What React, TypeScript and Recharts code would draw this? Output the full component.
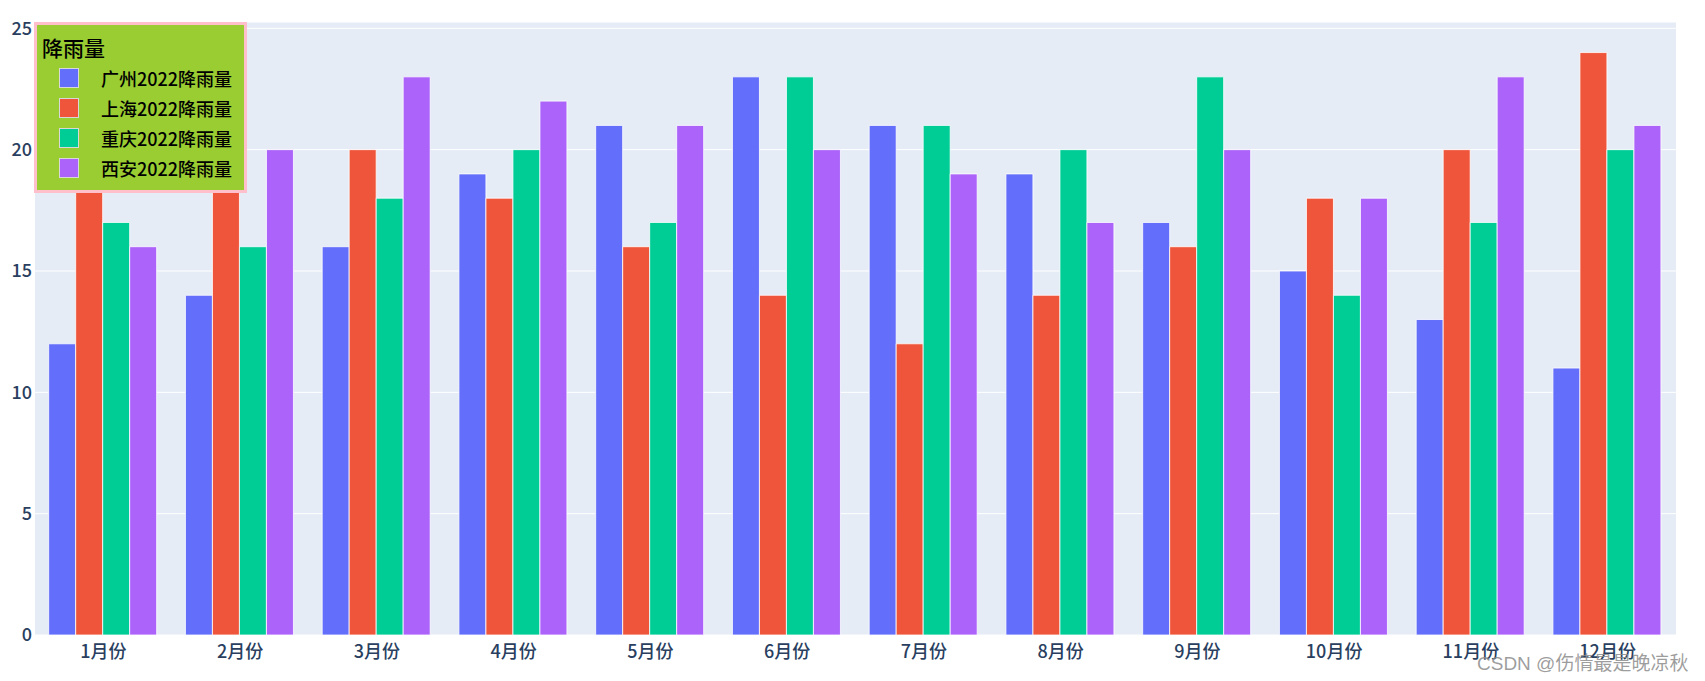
import { BarChart, Bar, XAxis, YAxis, CartesianGrid, Legend } from "recharts";

const MONTHS = [
  "1月份", "2月份", "3月份", "4月份", "5月份", "6月份",
  "7月份", "8月份", "9月份", "10月份", "11月份", "12月份",
];

const GUANGZHOU = [12, 14, 16, 19, 21, 23, 21, 19, 17, 15, 13, 11];
const SHANGHAI = [24, 22, 20, 18, 16, 14, 12, 14, 16, 18, 20, 24];
const CHONGQING = [17, 16, 18, 20, 17, 23, 21, 20, 23, 14, 17, 20];
const XIAN = [16, 20, 23, 22, 21, 20, 19, 17, 20, 18, 23, 21];

const Y_TICKS = [0, 5, 10, 15, 20, 25];

const SERIES = [
  { key: "gz", name: "广州2022降雨量", color: "#636EFA", values: GUANGZHOU },
  { key: "sh", name: "上海2022降雨量", color: "#EF553B", values: SHANGHAI },
  { key: "cq", name: "重庆2022降雨量", color: "#00CC96", values: CHONGQING },
  { key: "xa", name: "西安2022降雨量", color: "#AB63FA", values: XIAN },
];

const data = MONTHS.map((month, i) => {
  const row: Record<string, string | number> = { month };
  SERIES.forEach((s) => (row[s.key] = s.values[i]));
  return row;
});

const FONT = '"Noto Sans CJK SC", "Open Sans", sans-serif';

function RainLegend() {
  return (
    <div
      style={{
        boxSizing: "border-box",
        width: 213,
        height: 171,
        background: "#9ACD32",
        border: "3px solid #FFC0CB",
        fontFamily: FONT,
        fontWeight: 500,
        color: "#000",
        position: "relative",
      }}
    >
      <div style={{ position: "absolute", left: 5, top: 9, fontSize: 21, lineHeight: "26px" }}>
        降雨量
      </div>
      {SERIES.map((s, i) => (
        <div key={s.key}>
          <div
            style={{
              position: "absolute",
              left: 22,
              top: 43 + i * 30,
              width: 18,
              height: 18,
              background: s.color,
              border: "1px solid #d8d8d8",
            }}
          />
          <div
            style={{
              position: "absolute",
              left: 64,
              top: 40 + i * 30,
              fontSize: 18,
              lineHeight: "26px",
              whiteSpace: "nowrap",
            }}
          >
            {s.name}
          </div>
        </div>
      ))}
    </div>
  );
}

export default function App() {
  return (
    <div style={{ position: "absolute", left: 0, top: 0, width: 1705, height: 681, background: "#fff" }}>
      <BarChart
        width={1705}
        height={681}
        data={data}
        margin={{ top: 22, right: 29, bottom: 0, left: 0 }}
        barCategoryGap="10%"
        barGap={0}
      >
        <CartesianGrid vertical={false} stroke="#ffffff" strokeWidth={1} fill="#E5ECF6" />
        <XAxis
          dataKey="month"
          height={46}
          axisLine={false}
          tickLine={false}
          tickSize={0}
          tickMargin={10}
          tick={{ fill: "#2a3f5f", fontSize: 18, fontWeight: 500, fontFamily: FONT }}
        />
        <YAxis
          width={35}
          domain={[0, 25.26]}
          ticks={Y_TICKS}
          axisLine={false}
          tickLine={false}
          tickSize={0}
          tickMargin={3}
          tick={{ fill: "#2a3f5f", fontSize: 18, fontWeight: 500, fontFamily: FONT }}
        />
        <Legend
          layout="vertical"
          verticalAlign="middle"
          align="center"
          wrapperStyle={{ left: 34, top: 22, width: 213, height: 171 }}
          content={() => <RainLegend />}
        />
        {SERIES.map((s) => (
          <Bar
            key={s.key}
            dataKey={s.key}
            name={s.name}
            fill={s.color}
            stroke="#ffffff"
            strokeWidth={0.8}
            isAnimationActive={false}
          />
        ))}
      </BarChart>
      <div
        style={{
          position: "absolute",
          left: 1477,
          top: 648,
          fontSize: 19,
          color: "rgba(140,140,140,0.85)",
          fontFamily: '"Liberation Sans", "Noto Sans CJK SC", sans-serif',
          whiteSpace: "nowrap",
        }}
      >
        CSDN @伤情最是晚凉秋
      </div>
    </div>
  );
}
